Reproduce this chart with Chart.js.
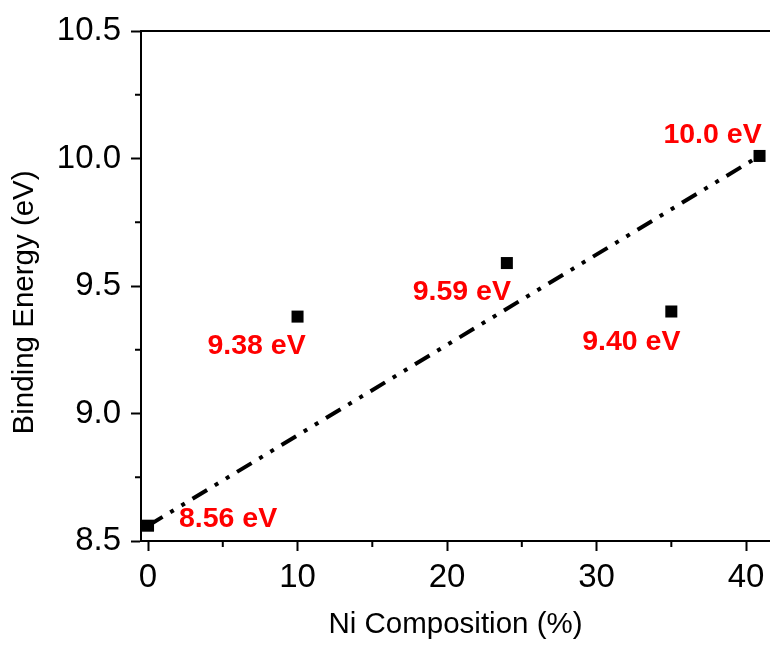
<!DOCTYPE html>
<html>
<head>
<meta charset="utf-8">
<script src="https://cdn.jsdelivr.net/npm/chart.js@4"></script>
<style>
  html, body { margin: 0; padding: 0; background: #fff; }
  #wrap { width: 770px; height: 648px; }
</style>
</head>
<body>
<div id="wrap"><canvas id="graf" width="770" height="648"></canvas></div>
<script>
// dados
const niComposicao = [0, 10, 24, 35, 40.9];
const energiaLigacao = [8.56, 9.38, 9.59, 9.40, 10.01];
const rotulos = ['8.56 eV', '9.38 eV', '9.59 eV', '9.40 eV', '10.0 eV'];
const ajusteX = [0, 40.9];
const ajusteY = [8.56, 10.01];
const ticksX = [0, 10, 20, 30, 40];
const ticksY = [8.5, 9.0, 9.5, 10.0, 10.5];

const fonte = "'Liberation Sans', Arial, sans-serif";

// deslocamento dos rotulos vermelhos em relacao ao ponto (px)
const desloc = [[80, -7], [-41, 30], [-45, 29], [-40, 31], [-47, -21]];

const pluginRotulos = {
  id: 'rotulos',
  afterDatasetsDraw(chart) {
    const ctx = chart.ctx;
    const meta = chart.getDatasetMeta(1);
    ctx.save();
    ctx.fillStyle = '#ff0000';
    ctx.font = 'bold 28.5px ' + fonte;
    ctx.textAlign = 'center';
    ctx.textBaseline = 'middle';
    meta.data.forEach(function (pt, i) {
      ctx.fillText(rotulos[i], pt.x + desloc[i][0], pt.y + desloc[i][1]);
    });
    ctx.restore();
  }
};

// borda de cima e ticks menores
const pluginMoldura = {
  id: 'moldura',
  afterDraw(chart) {
    const ctx = chart.ctx;
    const a = chart.chartArea;
    ctx.save();
    ctx.strokeStyle = '#000';
    ctx.lineWidth = 2;
    ctx.beginPath();
    ctx.moveTo(a.left - 1, a.top);
    ctx.lineTo(a.right, a.top);
    ctx.stroke();

    const sx = chart.scales.x;
    const sy = chart.scales.y;
    ctx.beginPath();
    for (let i = 0; i < ticksX.length - 1; i++) {
      const px = sx.getPixelForValue((ticksX[i] + ticksX[i + 1]) / 2);
      ctx.moveTo(px, a.bottom);
      ctx.lineTo(px, a.bottom + 6);
    }
    for (let i = 0; i < ticksY.length - 1; i++) {
      const py = sy.getPixelForValue((ticksY[i] + ticksY[i + 1]) / 2);
      ctx.moveTo(a.left, py);
      ctx.lineTo(a.left - 6, py);
    }
    ctx.stroke();
    ctx.restore();
  }
};

new Chart(document.getElementById('graf'), {
  type: 'scatter',
  data: {
    datasets: [
      {
        label: 'ajuste',
        data: ajusteX.map((x, i) => ({ x: x, y: ajusteY[i] })),
        showLine: true,
        borderColor: '#000',
        borderWidth: 4,
        borderDash: [17, 9, 4, 9, 4, 9],
        pointRadius: 0,
        order: 2
      },
      {
        label: 'dados',
        data: niComposicao.map((x, i) => ({ x: x, y: energiaLigacao[i] })),
        pointStyle: 'rect',
        pointRadius: 8.5,
        backgroundColor: '#000',
        borderColor: '#000',
        borderWidth: 0,
        order: 1
      }
    ]
  },
  options: {
    responsive: false,
    animation: false,
    layout: { autoPadding: false, padding: { top: 31, right: 0, left: 0, bottom: 0 } },
    plugins: {
      legend: { display: false },
      tooltip: { enabled: false }
    },
    scales: {
      x: {
        type: 'linear',
        min: -0.47,
        max: 41.6,
        afterBuildTicks: function (s) { s.ticks = ticksX.map(v => ({ value: v })); },
        afterFit: function (s) { s.height = 107; s.paddingLeft = 0; s.paddingRight = 0; },
        border: { display: true, color: '#000', width: 2 },
        grid: { drawOnChartArea: false, drawTicks: true, tickLength: 10, tickWidth: 2, tickColor: '#000' },
        ticks: { color: '#000', padding: 7, font: { family: fonte, size: 33 } },
        title: {
          display: true,
          text: 'Ni Composition (%)',
          color: '#000',
          padding: { top: 0, bottom: 5 },
          font: { family: fonte, size: 29.5 }
        }
      },
      y: {
        type: 'linear',
        min: 8.5,
        max: 10.5,
        afterBuildTicks: function (s) { s.ticks = ticksY.map(v => ({ value: v })); },
        afterFit: function (s) { s.width = 141; s.paddingTop = 0; s.paddingBottom = 0; },
        border: { display: true, color: '#000', width: 2 },
        grid: { drawOnChartArea: false, drawTicks: true, tickLength: 10, tickWidth: 2, tickColor: '#000' },
        ticks: {
          color: '#000',
          padding: 10,
          font: { family: fonte, size: 33 },
          callback: function (v) { return Number(v).toFixed(1); }
        },
        title: {
          display: true,
          text: 'Binding Energy (eV)    ',
          color: '#000',
          padding: { top: 7, bottom: 0 },
          font: { family: fonte, size: 29.5 }
        }
      }
    }
  },
  plugins: [pluginRotulos, pluginMoldura]
});
</script>
</body>
</html>
